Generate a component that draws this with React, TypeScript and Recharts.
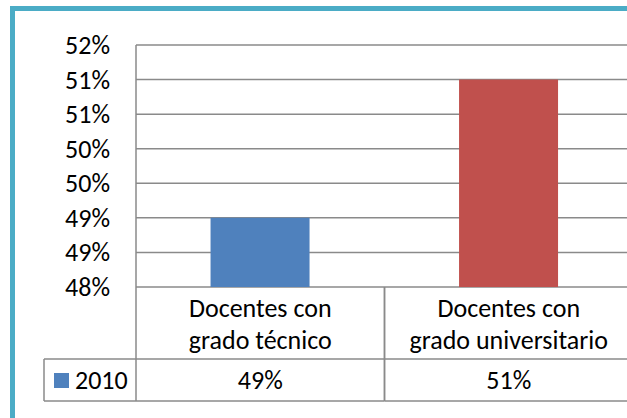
import React from 'react';
import { BarChart, Bar, XAxis, YAxis, CartesianGrid, Cell } from 'recharts';

const categoryLines: string[][] = [
  ['Docentes con', 'grado técnico'],
  ['Docentes con', 'grado universitario'],
];
const categories = ['Docentes con grado técnico', 'Docentes con grado universitario'];
const values2010 = [49, 51];
const seriesName = '2010';
const barColors = ['#4F81BD', '#C0504D'];
const yTicks = [48, 48.5, 49, 49.5, 50, 50.5, 51, 51.5];
const yTickLabels = ['48%', '49%', '49%', '50%', '50%', '51%', '51%', '52%'];

const data = categories.map((c, i) => ({ name: c, value: values2010[i] }));

const FONT = 'Carlito, Calibri, Lato, "Open Sans", sans-serif';
const FS = 26;
const LINE = '#8a8a8a';
const TABLE_ROW1 = 72; // category row height
const TABLE_ROW2 = 42; // series row height
const LEGEND_LEFT = 44;
const PLOT_LEFT = 136;

const XTick = (props: any) => {
  const { x, y, payload, index } = props;
  const half = payload && typeof payload.offset === 'number' && payload.offset > 0 ? payload.offset : 124.25;
  const x0 = x - half;
  const x1 = x + half;
  const yMid = y + TABLE_ROW1;
  const yBot = yMid + TABLE_ROW2;
  const lines = categoryLines[index] || [String(payload.value)];
  return (
    <g>
      <line x1={x0} y1={y} x2={x0} y2={yBot} stroke={LINE} strokeWidth={1.5} />
      <line x1={x1} y1={y} x2={x1} y2={yBot} stroke={LINE} strokeWidth={1.5} />
      <line x1={x0} y1={yMid} x2={x1} y2={yMid} stroke={LINE} strokeWidth={1.5} />
      <line x1={x0} y1={yBot} x2={x1} y2={yBot} stroke={LINE} strokeWidth={1.5} />
      {lines.map((t, i) => (
        <text key={i} x={x} y={y + 21 + i * 32} textAnchor="middle" dominantBaseline="central"
          fontFamily={FONT} fontSize={FS} fill="#000">{t}</text>
      ))}
      <text x={x} y={yMid + 21} textAnchor="middle" dominantBaseline="central"
        fontFamily={FONT} fontSize={FS} fill="#000">{Math.round(values2010[index])}%</text>
      {index === 0 && (
        <g>
          <line x1={LEGEND_LEFT} y1={yMid} x2={x0} y2={yMid} stroke={LINE} strokeWidth={1.5} />
          <line x1={LEGEND_LEFT} y1={yBot} x2={x0} y2={yBot} stroke={LINE} strokeWidth={1.5} />
          <line x1={LEGEND_LEFT} y1={yMid} x2={LEGEND_LEFT} y2={yBot} stroke={LINE} strokeWidth={1.5} />
          <rect x={LEGEND_LEFT + 10} y={yMid + 14} width={15} height={15} fill={barColors[0]} />
          <text x={LEGEND_LEFT + 31} y={yMid + 21} textAnchor="start" dominantBaseline="central"
            fontFamily={FONT} fontSize={FS} fill="#000">{seriesName}</text>
        </g>
      )}
    </g>
  );
};

const YTick = (props: any) => {
  const { y, payload, index } = props;
  const label = yTickLabels[index] ?? `${Math.round(payload.value)}%`;
  return (
    <text x={PLOT_LEFT - 26} y={y} textAnchor="end" dominantBaseline="central"
      fontFamily={FONT} fontSize={FS} fill="#000">{label}</text>
  );
};

export default function App() {
  return (
    <div style={{ position: 'absolute', left: 0, top: 0, width: 627, height: 418, overflow: 'hidden', background: '#fff' }}>
      <div style={{ position: 'absolute', left: 10, top: 6, width: 700, height: 500, border: '5px solid #4BACC6', boxSizing: 'border-box' }} />
      <div style={{ position: 'absolute', left: 0, top: 0 }}>
        <BarChart width={660} height={418} data={data} margin={{ top: 45, right: 27, bottom: 0, left: 0 }} barCategoryGap="30%">
          <CartesianGrid horizontal vertical={false} stroke={LINE} strokeWidth={1.5} />
          <YAxis type="number" domain={[48, 51.5]} ticks={yTicks} width={PLOT_LEFT} interval={0}
            axisLine={{ stroke: LINE, strokeWidth: 1.5 }} tickLine={false} tickSize={0} tickMargin={0} tick={<YTick />} allowDataOverflow />
          <XAxis dataKey="name" type="category" height={131} interval={0} axisLine={false} tickLine={false}
            tickSize={0} tickMargin={0} tick={<XTick />} />
          <Bar dataKey="value" name={seriesName} isAnimationActive={false}>
            {data.map((d, i) => <Cell key={d.name} fill={barColors[i]} />)}
          </Bar>
        </BarChart>
      </div>
    </div>
  );
}
